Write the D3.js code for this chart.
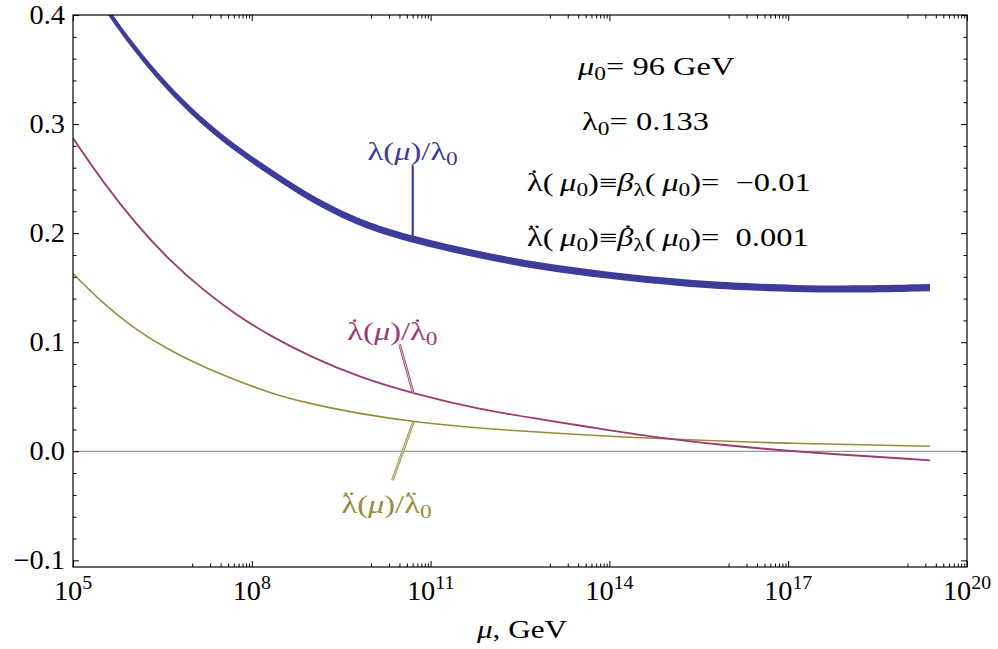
<!DOCTYPE html>
<html>
<head>
<meta charset="utf-8">
<script src="https://cdn.jsdelivr.net/npm/d3@7"></script>
<style>
  html, body { margin: 0; padding: 0; background: #fff; }
</style>
</head>
<body>
<div id="chart"></div>
<script>
// log10(mu / GeV) and ratio values
const lambdaLogMu = [5.0, 5.62, 6.01, 6.57, 7.13, 7.69, 8.25, 8.8, 9.36, 9.92, 10.7, 11.8, 12.88, 14.0, 15.28, 16.2, 17.07, 18.26, 19.38];
const lambdaVals  = [0.452, 0.400, 0.371, 0.334, 0.304, 0.279, 0.258, 0.238, 0.221, 0.207, 0.194, 0.180, 0.169, 0.161, 0.154, 0.151, 0.149, 0.1485, 0.150];

const betaLogMu = [5.0, 5.5, 6.06, 6.62, 7.18, 7.74, 8.3, 8.97, 9.8, 10.7, 11.8, 12.88, 13.8, 14.75, 15.9, 17.02, 19.38];
const betaVals  = [0.287, 0.247, 0.208, 0.175, 0.148, 0.125, 0.106, 0.087, 0.068, 0.053, 0.0385, 0.029, 0.021, 0.0128, 0.0058, 0.0, -0.0083];

const betaDotLogMu = [5.0, 5.5, 6.06, 6.62, 7.18, 7.74, 8.3, 8.97, 9.8, 10.7, 12.16, 14.68, 17.0, 19.38];
const betaDotVals  = [0.163, 0.1355, 0.111, 0.0925, 0.0775, 0.065, 0.0535, 0.0435, 0.0345, 0.0269, 0.0193, 0.0116, 0.0071, 0.0046];

const lambdaBandHalf = 0.0033; // half-thickness of the lambda band

const xMajorExps = [5, 8, 11, 14, 17, 20];
const yMajorTicks = [-0.1, 0.0, 0.1, 0.2, 0.3, 0.4];

const FONT = "'Liberation Serif', 'Times New Roman', serif";
const width = 998, height = 649;
const margins = { top: 15, right: 31, bottom: 82, left: 73 };
const innerWidth = width - margins.left - margins.right;
const innerHeight = height - margins.top - margins.bottom;

const COLORS = { lambda: "#3d3d99", beta: "#993d71", betaDot: "#998b3d" };

const svg = d3.select("#chart").append("svg")
  .attr("width", width).attr("height", height)
  .attr("font-family", FONT);

const mainG = svg.append("g")
  .attr("transform", `translate(${margins.left},${margins.top})`);

const xScale = d3.scaleLog().domain([1e5, 1e20]).range([0, innerWidth]);
const yScale = d3.scaleLinear().domain([-0.1061, 0.4]).range([innerHeight, 0]);

svg.append("defs").append("clipPath").attr("id", "plot-clip")
  .append("rect").attr("width", innerWidth).attr("height", innerHeight);

// measure a string in the chart font
function measure(str, size, italic) {
  const t = svg.append("text").attr("font-size", size)
    .attr("font-style", italic ? "italic" : null).text(str);
  const w = t.node().getComputedTextLength();
  t.remove();
  return w;
}

// rich text: parts = [[text, style]]
// style: "" | "i" | "s" (sub) | "sup" | "d1"/"d2" (dot/double dot above) | "id1" (italic, dot above)
function richText(parent, x, y, parts, opts) {
  const size = opts.size, sx = opts.sx || 1;
  const g = parent.append("g").attr("transform", `translate(${x},${y}) scale(${sx},1)`);
  const text = g.append("text")
    .attr("font-size", size)
    .attr("fill", opts.fill || "#000")
    .attr("text-anchor", opts.anchor || "start")
    .attr("xml:space", "preserve");
  let shift = 0, pendingDx = 0;
  const add = (str, target, extra) => {
    const ts = text.append("tspan").text(str).attr("dy", target - shift);
    if (pendingDx) { ts.attr("dx", pendingDx); pendingDx = 0; }
    shift = target;
    if (extra) extra(ts);
    return ts;
  };
  parts.forEach(([t, style]) => {
    if (style === "s") {
      add(t, size * 0.2, (ts) => ts.attr("font-size", size * 0.72));
    } else if (style === "sup") {
      add(t, -size * 0.4, (ts) => ts.attr("font-size", size * 0.7));
    } else if (style === "d1" || style === "d2" || style === "id1") {
      const italic = style === "id1";
      const mark = style === "d2" ? "\u00A8" : "\u02D9";
      const wb = measure(t, size, italic), wd = measure(mark, size, false);
      const off = italic ? size * 0.08 : -size * 0.02;
      add(t, 0, (ts) => { if (italic) ts.attr("font-style", "italic"); });
      pendingDx = -wb / 2 - wd / 2 + off;
      add(mark, -size * 0.17);
      pendingDx = wb / 2 - off - wd / 2;
    } else {
      add(t, 0, (ts) => { if (style === "i") ts.attr("font-style", "italic"); });
    }
  });
  return g;
}

// zero line
mainG.append("line")
  .attr("x1", 0).attr("x2", innerWidth)
  .attr("y1", yScale(0)).attr("y2", yScale(0))
  .attr("stroke", "#999").attr("stroke-width", 1.2);

const plotG = mainG.append("g").attr("clip-path", "url(#plot-clip)");

const toPts = (logs, vals) => logs.map((e, i) => ({ mu: Math.pow(10, e), v: vals[i] }));

const line = d3.line()
  .x((d) => xScale(d.mu))
  .y((d) => yScale(d.v))
  .curve(d3.curveBasis);

plotG.append("path")
  .attr("d", line(toPts(betaDotLogMu, betaDotVals)))
  .attr("fill", "none").attr("stroke", COLORS.betaDot).attr("stroke-width", 1.6);

plotG.append("path")
  .attr("d", line(toPts(betaLogMu, betaVals)))
  .attr("fill", "none").attr("stroke", COLORS.beta).attr("stroke-width", 1.9);

const band = d3.area()
  .x((d) => xScale(d.mu))
  .y0((d) => yScale(d.v - lambdaBandHalf))
  .y1((d) => yScale(d.v + lambdaBandHalf))
  .curve(d3.curveBasis);

plotG.append("path")
  .attr("d", band(toPts(lambdaLogMu, lambdaVals)))
  .attr("fill", COLORS.lambda);

// frame
mainG.append("rect")
  .attr("width", innerWidth).attr("height", innerHeight)
  .attr("fill", "none").attr("stroke", "#000").attr("stroke-width", 1.2);

// ticks (inside, on all four sides)
const xMajor = xMajorExps.map((e) => Math.pow(10, e));
const xMinor = [];
xMajorExps.slice(1).forEach((e) => {
  for (let k = 1; k <= 9; k++) xMinor.push(k * Math.pow(10, e - 1));
});
const yMinor = d3.range(-0.1, 0.4001, 0.02).filter((v) => Math.abs(Math.round(v * 10) - v * 10) > 1e-6);

const tickAxis = (axisFn, scale, values, size, transform) => {
  const g = mainG.append("g").attr("transform", transform || null)
    .call(axisFn(scale).tickValues(values).tickSize(-size).tickFormat(""));
  g.select(".domain").remove();
  g.selectAll(".tick line").attr("stroke", "#000").attr("stroke-width", 1);
  return g;
};

tickAxis(d3.axisBottom, xScale, xMajor, 6, `translate(0,${innerHeight})`);
tickAxis(d3.axisBottom, xScale, xMinor, 3.5, `translate(0,${innerHeight})`);
tickAxis(d3.axisTop, xScale, xMajor, 6);
tickAxis(d3.axisTop, xScale, xMinor, 3.5);
tickAxis(d3.axisRight, yScale, yMinor, 3.5, `translate(${innerWidth},0)`);
tickAxis(d3.axisRight, yScale, yMajorTicks, 6, `translate(${innerWidth},0)`);
tickAxis(d3.axisLeft, yScale, yMinor, 3.5);
tickAxis(d3.axisLeft, yScale, yMajorTicks, 6);

// y labels
const yFmt = d3.format(".1f");
yMajorTicks.forEach((v) => {
  richText(mainG, -8, yScale(v) + 9, [[yFmt(v), ""]], { size: 27, sx: 1.05, anchor: "end" });
});

// x labels 10^n
xMajorExps.forEach((e) => {
  richText(mainG, xScale(Math.pow(10, e)), innerHeight + 33,
    [["10", ""], [String(e), "sup"]], { size: 27, sx: 1.05, anchor: "middle" });
});

// x axis title
richText(mainG, innerWidth / 2 + 2, innerHeight + 71,
  [["μ", "i"], [", Ge", ""], ["V", ""]], { size: 26, sx: 1.2, anchor: "middle" });

// curve labels with pointer lines
const labels = [
  { color: COLORS.lambda, text: [["λ(", ""], ["μ", "i"], [")/λ", ""], ["0", "s"]],
    tx: 10.7, ty: 0.267, from: [10.7, 0.262], to: [10.7, 0.194], double: false },
  { color: COLORS.beta, text: [["λ", "d1"], ["(", ""], ["μ", "i"], [")/", ""], ["λ", "d1"], ["0", "s"]],
    tx: 10.36, ty: 0.102, from: [10.48, 0.098], to: [10.71, 0.053], double: true },
  { color: COLORS.betaDot, text: [["λ", "d2"], ["(", ""], ["μ", "i"], [")/", ""], ["λ", "d2"], ["0", "s"]],
    tx: 10.26, ty: -0.057, from: [10.36, -0.0266], to: [10.71, 0.0269], double: true }
];

labels.forEach((d) => {
  const x1 = xScale(Math.pow(10, d.from[0])), y1 = yScale(d.from[1]);
  const x2 = xScale(Math.pow(10, d.to[0])), y2 = yScale(d.to[1]);
  mainG.append("line")
    .attr("x1", x1).attr("y1", y1).attr("x2", x2).attr("y2", y2)
    .attr("stroke", d.color).attr("stroke-width", d.double ? 2.6 : 2.2);
  if (d.double) {
    mainG.append("line")
      .attr("x1", x1).attr("y1", y1).attr("x2", x2).attr("y2", y2)
      .attr("stroke", "#fff").attr("stroke-width", 0.7);
  }
  richText(mainG, xScale(Math.pow(10, d.tx)), yScale(d.ty), d.text,
    { size: 25, sx: 1.3, anchor: "middle", fill: d.color });
});

// parameter annotations
const notes = [
  { x: 578, y: 75, parts: [["μ", "i"], ["0", "s"], ["= 96 GeV", ""]] },
  { x: 582, y: 130, parts: [["λ", ""], ["0", "s"], ["= 0.133", ""]] },
  { x: 527, y: 191, parts: [["λ", "d1"], ["(\u2009", ""], ["μ", "i"], ["0", "s"], [")≡", ""], ["β", "i"], ["λ", "s"],
    ["(\u2009", ""], ["μ", "i"], ["0", "s"], [")=\u2002−0.01", ""]] },
  { x: 527, y: 246, parts: [["λ", "d2"], ["(\u2009", ""], ["μ", "i"], ["0", "s"], [")≡", ""], ["β", "id1"], ["λ", "s"],
    ["(\u2009", ""], ["μ", "i"], ["0", "s"], [")=\u20020.001", ""]] }
];

notes.forEach((n) => {
  richText(svg, n.x, n.y, n.parts, { size: 25, sx: 1.3 });
});
</script>
</body>
</html>
